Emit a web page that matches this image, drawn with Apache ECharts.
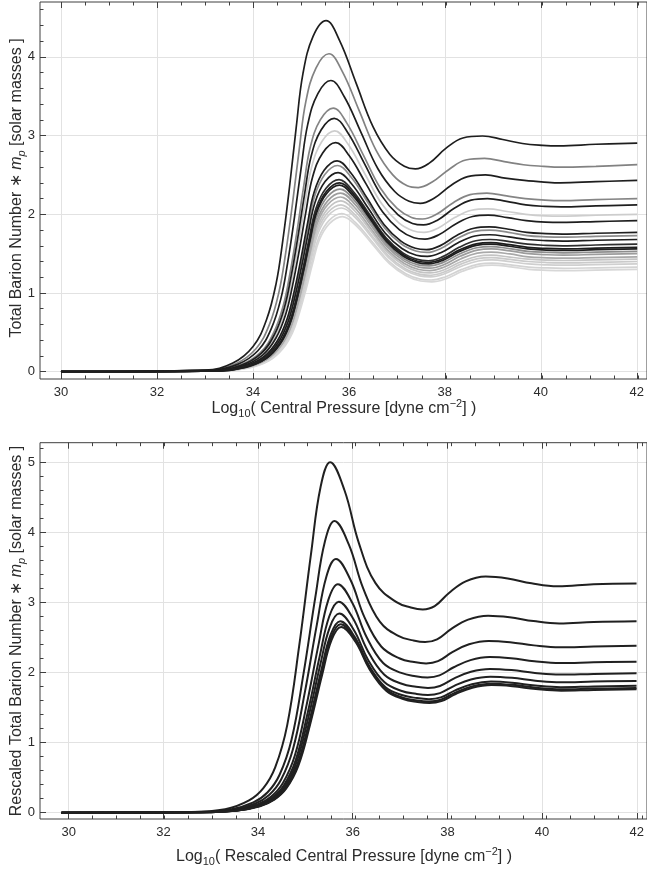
<!DOCTYPE html>
<html>
<head>
<meta charset="utf-8">
<script src="https://cdn.jsdelivr.net/npm/echarts@6/dist/echarts.min.js"></script>
<style>
  html, body { margin: 0; padding: 0; background: #ffffff; }
  #chart { width: 647px; height: 873px; }
</style>
</head>
<body>
<div id="chart"></div>
<script>
// Total baryon number (times proton mass) against log10 of the central pressure,
// one curve per equation of state. Upper panel: raw values; lower panel: rescaled.

// ---- tick values ----
const pressureTicks = [30, 32, 34, 36, 38, 40, 42];
const massTicksTop = [0, 1, 2, 3, 4];
const massTicksBottom = [0, 1, 2, 3, 4, 5];

// ---- upper panel curves: [log10 P_c, N * m_p] ----
const topCurve01 = [[30,0],[33,0.02],[33.58,0.11],[34,0.32],[34.28,0.66],[34.48,1.12],[34.62,1.67],[34.76,2.35],[34.9,3.11],[35.04,3.79],[35.25,4.26],[35.52,4.46],[35.8,4.21],[36.15,3.66],[36.5,3.11],[36.85,2.76],[37.15,2.61],[37.38,2.576],[37.67,2.65],[38.02,2.84],[38.37,2.97],[38.78,2.995],[39.2,2.95],[39.61,2.9],[40.03,2.877],[40.37,2.87],[41.14,2.89],[42,2.905]];
const topCurve02 = [[30,0],[33.06,0.018],[33.64,0.101],[34.06,0.291],[34.34,0.598],[34.54,1.014],[34.68,1.511],[34.82,2.129],[34.96,2.816],[35.1,3.434],[35.31,3.858],[35.58,4.04],[35.86,3.814],[36.21,3.317],[36.56,2.816],[36.91,2.501],[37.21,2.363],[37.44,2.34],[37.73,2.41],[38.08,2.57],[38.43,2.69],[38.82,2.71],[39.23,2.67],[39.63,2.63],[40.05,2.61],[40.39,2.6],[41.14,2.61],[42,2.63]];
const topCurve03 = [[30,0],[33.1,0.017],[33.68,0.093],[34.1,0.266],[34.38,0.548],[34.58,0.929],[34.72,1.384],[34.86,1.95],[35,2.579],[35.14,3.145],[35.35,3.534],[35.62,3.7],[35.9,3.493],[36.25,3.038],[36.6,2.579],[36.95,2.29],[37.25,2.165],[37.48,2.14],[37.77,2.205],[38.12,2.367],[38.47,2.478],[38.84,2.5],[39.25,2.46],[39.65,2.43],[40.06,2.41],[40.4,2.4],[41.14,2.415],[42,2.43]];
const topCurve04 = [[30,0],[33.15,0.015],[33.73,0.084],[34.15,0.241],[34.43,0.496],[34.63,0.841],[34.77,1.253],[34.91,1.765],[35.05,2.335],[35.19,2.848],[35.4,3.199],[35.67,3.35],[35.95,3.162],[36.3,2.75],[36.65,2.335],[37,2.074],[37.3,1.96],[37.53,1.94],[37.82,2],[38.17,2.148],[38.52,2.25],[38.87,2.27],[39.28,2.233],[39.67,2.2],[40.08,2.18],[40.42,2.173],[41.14,2.187],[42,2.2]];
const topCurve05 = [[30,0],[33.17,0.014],[33.75,0.08],[34.17,0.232],[34.45,0.477],[34.65,0.808],[34.79,1.204],[34.93,1.697],[35.07,2.244],[35.21,2.737],[35.42,3.075],[35.69,3.22],[35.97,3.04],[36.32,2.644],[36.67,2.244],[37.02,1.993],[37.32,1.884],[37.55,1.865],[37.84,1.925],[38.19,2.076],[38.54,2.18],[38.88,2.2],[39.28,2.165],[39.68,2.12],[40.08,2.1],[40.42,2.094],[41.14,2.107],[42,2.12]];
const topCurve06 = [[30,0],[33.18,0.014],[33.76,0.077],[34.18,0.22],[34.46,0.453],[34.66,0.768],[34.8,1.144],[34.94,1.613],[35.08,2.133],[35.22,2.601],[35.43,2.922],[35.7,3.06],[35.98,2.889],[36.33,2.512],[36.68,2.133],[37.03,1.894],[37.33,1.79],[37.56,1.77],[37.85,1.824],[38.2,1.959],[38.55,2.052],[38.89,2.07],[39.29,2.036],[39.68,2],[40.09,1.98],[40.43,1.976],[41.14,1.988],[42,2]];
const topCurve07 = [[30,0],[33.2,0.013],[33.78,0.073],[34.2,0.21],[34.48,0.431],[34.68,0.73],[34.82,1.088],[34.96,1.534],[35.1,2.028],[35.24,2.474],[35.45,2.779],[35.72,2.91],[36,2.747],[36.35,2.389],[36.7,2.028],[37.05,1.801],[37.35,1.702],[37.58,1.685],[37.87,1.74],[38.22,1.877],[38.57,1.972],[38.9,1.99],[39.3,1.958],[39.69,1.92],[40.09,1.9],[40.43,1.897],[41.14,1.908],[42,1.92]];
const topCurve08 = [[30,0],[33.23,0.012],[33.81,0.067],[34.23,0.193],[34.51,0.397],[34.71,0.673],[34.85,1.002],[34.99,1.412],[35.13,1.868],[35.27,2.278],[35.48,2.559],[35.75,2.68],[36.03,2.53],[36.38,2.2],[36.73,1.868],[37.08,1.659],[37.38,1.568],[37.61,1.55],[37.9,1.602],[38.25,1.733],[38.6,1.823],[38.92,1.84],[39.32,1.81],[39.7,1.77],[40.1,1.754],[40.44,1.749],[41.14,1.759],[42,1.77]];
const topCurve09 = [[30,0],[33.24,0.012],[33.82,0.066],[34.24,0.189],[34.52,0.388],[34.72,0.658],[34.86,0.98],[35,1.381],[35.14,1.826],[35.28,2.227],[35.49,2.502],[35.76,2.62],[36.04,2.473],[36.39,2.151],[36.74,1.826],[37.09,1.622],[37.39,1.533],[37.62,1.515],[37.91,1.566],[38.26,1.695],[38.61,1.783],[38.93,1.8],[39.32,1.771],[39.71,1.73],[40.1,1.714],[40.44,1.709],[41.14,1.72],[42,1.73]];
const topCurve10 = [[30,0],[33.25,0.011],[33.83,0.063],[34.25,0.182],[34.53,0.374],[34.73,0.635],[34.87,0.946],[35.01,1.333],[35.15,1.763],[35.29,2.151],[35.5,2.416],[35.77,2.53],[36.05,2.388],[36.4,2.077],[36.75,1.763],[37.1,1.566],[37.4,1.48],[37.63,1.465],[37.92,1.515],[38.27,1.638],[38.62,1.724],[38.93,1.74],[39.33,1.712],[39.71,1.68],[40.11,1.665],[40.45,1.66],[41.14,1.67],[42,1.68]];
const topCurve11 = [[30,0],[33.27,0.011],[33.85,0.061],[34.27,0.176],[34.55,0.361],[34.75,0.612],[34.89,0.913],[35.03,1.286],[35.17,1.701],[35.31,2.074],[35.52,2.33],[35.79,2.44],[36.07,2.303],[36.42,2.003],[36.77,1.701],[37.12,1.51],[37.42,1.427],[37.65,1.41],[37.94,1.459],[38.29,1.58],[38.64,1.664],[38.94,1.68],[39.34,1.653],[39.72,1.62],[40.11,1.605],[40.45,1.6],[41.14,1.61],[42,1.62]];
const topCurve12 = [[30,0],[33.28,0.011],[33.86,0.06],[34.28,0.173],[34.56,0.355],[34.76,0.602],[34.9,0.898],[35.04,1.265],[35.18,1.673],[35.32,2.04],[35.53,2.292],[35.8,2.4],[36.08,2.266],[36.43,1.97],[36.78,1.673],[37.13,1.486],[37.43,1.404],[37.66,1.39],[37.95,1.435],[38.3,1.548],[38.65,1.625],[38.95,1.64],[39.34,1.614],[39.72,1.58],[40.11,1.566],[40.45,1.561],[41.14,1.57],[42,1.58]];
const topCurve13 = [[30,0],[33.28,0.011],[33.86,0.059],[34.28,0.171],[34.56,0.351],[34.76,0.595],[34.9,0.886],[35.04,1.249],[35.18,1.652],[35.32,2.015],[35.53,2.263],[35.8,2.37],[36.08,2.237],[36.43,1.946],[36.78,1.652],[37.13,1.467],[37.43,1.386],[37.66,1.37],[37.95,1.415],[38.3,1.528],[38.65,1.605],[38.95,1.62],[39.34,1.594],[39.72,1.56],[40.11,1.546],[40.45,1.541],[41.14,1.55],[42,1.56]];
const topCurve14 = [[30,0],[33.29,0.01],[33.87,0.058],[34.29,0.167],[34.57,0.343],[34.77,0.582],[34.91,0.868],[35.05,1.223],[35.19,1.617],[35.33,1.972],[35.54,2.216],[35.81,2.32],[36.09,2.19],[36.44,1.905],[36.79,1.617],[37.14,1.436],[37.44,1.357],[37.67,1.345],[37.96,1.389],[38.31,1.499],[38.66,1.575],[38.95,1.59],[39.34,1.564],[39.72,1.53],[40.12,1.516],[40.46,1.511],[41.14,1.52],[42,1.53]];
const topCurve15 = [[30,0],[33.3,0.01],[33.88,0.057],[34.3,0.163],[34.58,0.336],[34.78,0.57],[34.92,0.849],[35.06,1.196],[35.2,1.582],[35.34,1.93],[35.55,2.168],[35.82,2.27],[36.1,2.143],[36.45,1.864],[36.8,1.582],[37.15,1.405],[37.45,1.328],[37.68,1.315],[37.97,1.359],[38.32,1.469],[38.67,1.545],[38.96,1.56],[39.35,1.535],[39.73,1.5],[40.12,1.486],[40.46,1.482],[41.14,1.49],[42,1.5]];
const topCurve16 = [[30,0],[33.3,0.01],[33.88,0.056],[34.3,0.16],[34.58,0.329],[34.78,0.557],[34.92,0.83],[35.06,1.17],[35.2,1.547],[35.34,1.887],[35.55,2.12],[35.82,2.22],[36.1,2.096],[36.45,1.823],[36.8,1.547],[37.15,1.374],[37.45,1.299],[37.68,1.285],[37.97,1.327],[38.32,1.433],[38.67,1.506],[38.96,1.52],[39.35,1.496],[39.73,1.46],[40.12,1.447],[40.46,1.442],[41.14,1.45],[42,1.46]];
const topCurve17 = [[30,0],[33.31,0.01],[33.89,0.054],[34.31,0.156],[34.59,0.321],[34.79,0.545],[34.93,0.812],[35.07,1.144],[35.21,1.512],[35.35,1.845],[35.56,2.072],[35.83,2.17],[36.11,2.048],[36.46,1.782],[36.81,1.512],[37.16,1.343],[37.46,1.269],[37.69,1.255],[37.98,1.296],[38.33,1.397],[38.68,1.467],[38.96,1.48],[39.35,1.456],[39.73,1.43],[40.12,1.417],[40.46,1.413],[41.14,1.42],[42,1.43]];
const topCurve18 = [[30,0],[33.31,0.01],[33.89,0.053],[34.31,0.153],[34.59,0.314],[34.79,0.532],[34.93,0.793],[35.07,1.117],[35.21,1.478],[35.35,1.802],[35.56,2.025],[35.83,2.12],[36.11,2.001],[36.46,1.741],[36.81,1.478],[37.16,1.312],[37.46,1.24],[37.69,1.225],[37.98,1.266],[38.33,1.367],[38.68,1.437],[38.96,1.45],[39.35,1.427],[39.73,1.4],[40.12,1.387],[40.46,1.383],[41.14,1.39],[42,1.4]];
const topCurve19 = [[30,0],[33.32,0.009],[33.9,0.052],[34.32,0.15],[34.6,0.308],[34.8,0.522],[34.94,0.778],[35.08,1.096],[35.22,1.45],[35.36,1.768],[35.57,1.986],[35.84,2.08],[36.12,1.964],[36.47,1.708],[36.82,1.45],[37.17,1.288],[37.47,1.217],[37.7,1.205],[37.99,1.244],[38.34,1.34],[38.69,1.407],[38.97,1.42],[39.36,1.397],[39.73,1.37],[40.12,1.357],[40.46,1.353],[41.14,1.36],[42,1.37]];
const topCurve20 = [[30,0],[33.33,0.009],[33.91,0.05],[34.33,0.145],[34.61,0.297],[34.81,0.505],[34.95,0.752],[35.09,1.059],[35.23,1.401],[35.37,1.709],[35.58,1.92],[35.85,2.01],[36.13,1.897],[36.48,1.65],[36.83,1.401],[37.18,1.244],[37.48,1.176],[37.71,1.165],[38,1.204],[38.35,1.3],[38.7,1.367],[38.98,1.38],[39.36,1.358],[39.74,1.33],[40.13,1.318],[40.47,1.314],[41.14,1.32],[42,1.33]];
const topCurve21 = [[30,0],[33.34,0.009],[33.92,0.049],[34.34,0.142],[34.62,0.292],[34.82,0.494],[34.96,0.737],[35.1,1.038],[35.24,1.373],[35.38,1.675],[35.59,1.881],[35.86,1.97],[36.14,1.86],[36.49,1.617],[36.84,1.373],[37.19,1.219],[37.49,1.152],[37.72,1.142],[38.01,1.18],[38.36,1.276],[38.71,1.342],[38.98,1.355],[39.37,1.333],[39.74,1.3],[40.13,1.288],[40.47,1.284],[41.14,1.29],[42,1.3]];

// ---- lower panel curves (rescaled) ----
const rescaledCurve1 = [[29.85,0],[32.48,0.01],[33.28,0.05],[33.78,0.175],[34.08,0.35],[34.33,0.65],[34.58,1.25],[34.83,2.375],[35.08,3.7],[35.28,4.65],[35.48,5],[35.78,4.6],[36.08,3.85],[36.43,3.275],[36.87,3.003],[37.17,2.928],[37.42,2.9],[37.67,2.947],[37.97,3.135],[38.32,3.3],[38.74,3.37],[39.2,3.342],[39.7,3.272],[40.25,3.23],[41,3.26],[41.9,3.27]];
const rescaledCurve2 = [[29.85,0],[32.57,0.008],[33.37,0.042],[33.87,0.146],[34.17,0.291],[34.42,0.541],[34.67,1.04],[34.92,1.976],[35.17,3.078],[35.37,3.869],[35.57,4.16],[35.87,3.827],[36.17,3.203],[36.52,2.725],[36.92,2.518],[37.22,2.458],[37.47,2.435],[37.72,2.473],[38.02,2.623],[38.37,2.754],[38.79,2.81],[39.24,2.788],[39.74,2.733],[40.28,2.7],[41,2.72],[41.9,2.73]];
const rescaledCurve3 = [[29.85,0],[32.6,0.007],[33.4,0.036],[33.9,0.127],[34.2,0.253],[34.45,0.471],[34.7,0.905],[34.95,1.72],[35.2,2.679],[35.4,3.367],[35.6,3.62],[35.9,3.33],[36.2,2.787],[36.55,2.371],[36.94,2.2],[37.24,2.149],[37.49,2.13],[37.74,2.162],[38.04,2.29],[38.39,2.402],[38.8,2.45],[39.25,2.432],[39.75,2.387],[40.29,2.36],[41,2.37],[41.9,2.38]];
const rescaledCurve4 = [[29.85,0],[32.64,0.007],[33.44,0.033],[33.94,0.114],[34.24,0.228],[34.49,0.424],[34.74,0.815],[34.99,1.549],[35.24,2.412],[35.44,3.032],[35.64,3.26],[35.94,2.999],[36.24,2.51],[36.59,2.135],[36.97,1.994],[37.27,1.947],[37.52,1.93],[37.77,1.959],[38.07,2.075],[38.42,2.177],[38.82,2.22],[39.27,2.203],[39.76,2.16],[40.3,2.135],[41,2.145],[41.9,2.155]];
const rescaledCurve5 = [[29.85,0],[32.66,0.006],[33.46,0.03],[33.96,0.105],[34.26,0.211],[34.51,0.391],[34.76,0.753],[35.01,1.43],[35.26,2.227],[35.46,2.799],[35.66,3.01],[35.96,2.769],[36.26,2.318],[36.61,1.972],[36.98,1.839],[37.28,1.796],[37.53,1.78],[37.78,1.807],[38.08,1.915],[38.43,2.01],[38.83,2.05],[39.28,2.034],[39.77,1.994],[40.3,1.97],[41,1.98],[41.9,1.99]];
const rescaledCurve6 = [[29.85,0],[32.67,0.006],[33.47,0.028],[33.97,0.099],[34.27,0.199],[34.52,0.369],[34.77,0.71],[35.02,1.349],[35.27,2.102],[35.47,2.641],[35.67,2.84],[35.97,2.613],[36.27,2.187],[36.62,1.86],[36.98,1.737],[37.28,1.696],[37.53,1.68],[37.78,1.706],[38.08,1.81],[38.43,1.901],[38.84,1.94],[39.29,1.924],[39.78,1.884],[40.31,1.86],[41,1.87],[41.9,1.88]];
const rescaledCurve7 = [[29.85,0],[32.69,0.005],[33.49,0.027],[33.99,0.096],[34.29,0.191],[34.54,0.355],[34.79,0.683],[35.04,1.297],[35.29,2.02],[35.49,2.539],[35.69,2.73],[35.99,2.512],[36.29,2.102],[36.64,1.788],[37,1.675],[37.3,1.635],[37.55,1.62],[37.8,1.645],[38.1,1.745],[38.45,1.833],[38.85,1.87],[39.29,1.854],[39.78,1.814],[40.31,1.79],[41,1.8],[41.9,1.81]];
const rescaledCurve8 = [[29.85,0],[32.7,0.005],[33.5,0.027],[34,0.094],[34.3,0.188],[34.55,0.35],[34.8,0.673],[35.05,1.278],[35.3,1.991],[35.5,2.502],[35.7,2.69],[36,2.475],[36.3,2.071],[36.65,1.762],[37,1.641],[37.3,1.6],[37.55,1.585],[37.8,1.611],[38.1,1.713],[38.45,1.802],[38.85,1.84],[39.3,1.824],[39.79,1.784],[40.32,1.76],[41,1.77],[41.9,1.78]];
const rescaledCurve9 = [[29.85,0],[32.71,0.005],[33.51,0.027],[34.01,0.093],[34.31,0.186],[34.56,0.345],[34.81,0.663],[35.06,1.259],[35.31,1.961],[35.51,2.465],[35.71,2.65],[36.01,2.438],[36.31,2.041],[36.66,1.736],[37.01,1.621],[37.31,1.58],[37.56,1.565],[37.81,1.591],[38.11,1.693],[38.46,1.782],[38.86,1.82],[39.3,1.804],[39.79,1.764],[40.32,1.74],[41,1.75],[41.9,1.76]];

const topCurves = [topCurve01, topCurve02, topCurve03, topCurve04, topCurve05, topCurve06, topCurve07,
  topCurve08, topCurve09, topCurve10, topCurve11, topCurve12, topCurve13, topCurve14, topCurve15,
  topCurve16, topCurve17, topCurve18, topCurve19, topCurve20, topCurve21];
const rescaledCurves = [rescaledCurve1, rescaledCurve2, rescaledCurve3, rescaledCurve4, rescaledCurve5,
  rescaledCurve6, rescaledCurve7, rescaledCurve8, rescaledCurve9];

// stroke shades of the upper-panel curves (same order as topCurves) and their drawing layer
const BLACK = '#1e1e1e';
const topCurveShades = [BLACK, '#828282', BLACK, '#858585', BLACK, '#cdcdcd', BLACK, BLACK, '#8c8c8c', BLACK,
  '#2e2e2e', BLACK, BLACK, '#8e8e8e', '#9c9c9c', '#a9a9a9', '#c4c4c4', '#cacaca', '#cfcfcf', '#d3d3d3', '#d7d7d7'];
const topCurveLayers = [5, 4, 5, 4, 5, 3, 5, 5, 4, 5, 5, 5, 5, 4, 4, 4, 3, 3, 3, 3, 3];

// ---- layout & styling ----
const FONT = '"Liberation Sans", Arial, Helvetica, sans-serif';
const FRAME_COLOR = '#3f3f3f';
const LABEL_COLOR = '#2b2b2b';
const GRIDLINE_COLOR = '#e2e2e2';

const panelLayout = [
  { frame: { left: 40, top: 2, width: 608, height: 377 }, x0: 61, xUnit: 48.1, y0: 371.7, yUnit: 78.7,
    yTicks: massTicksTop, yMinorMax: 4.6 },
  { frame: { left: 40, top: 442.7, width: 608, height: 376.3 }, x0: 68.7, xUnit: 47.8, y0: 812.7, yUnit: 70.1,
    yTicks: massTicksBottom, yMinorMax: 5.2 }
];

const grids = [], xAxes = [], yAxes = [], series = [];

function addGrid(rect, extra) {
  grids.push(Object.assign({ left: rect.left, top: rect.top, width: rect.width, height: rect.height,
    containLabel: false, show: false }, extra || {}));
  return grids.length - 1;
}
function hiddenAxis(gridIndex, min, max) {
  return { type: 'value', gridIndex, min, max, show: false };
}
function tickAxis(gridIndex, position, min, max, interval, tickLen, withLabels, withGrid) {
  return {
    type: 'value', gridIndex, position, min, max, interval,
    axisLine: { show: false, onZero: false },
    axisTick: { show: true, inside: true, length: tickLen, lineStyle: { color: FRAME_COLOR, width: 1 } },
    axisLabel: withLabels ? { show: true, margin: position === 'bottom' ? 7 : 5, color: LABEL_COLOR,
      fontSize: 13, fontFamily: FONT, showMinLabel: true, showMaxLabel: true } : { show: false },
    splitLine: withGrid ? { show: true, lineStyle: { color: GRIDLINE_COLOR, width: 1 } } : { show: false }
  };
}

panelLayout.forEach((p, panelIndex) => {
  const f = p.frame;
  const xFirst = pressureTicks[0], xLast = pressureTicks[pressureTicks.length - 1];
  const xStep = pressureTicks[1] - pressureTicks[0];
  const yMajorMax = p.yTicks[p.yTicks.length - 1];
  const xRect = { left: p.x0, top: f.top, width: (xLast - xFirst) * p.xUnit, height: f.height };

  // major and minor ticks along the pressure axis (bottom, mirrored on top)
  let g = addGrid(xRect);
  xAxes.push(tickAxis(g, 'bottom', xFirst, xLast, xStep, 6, true, true));
  xAxes.push(tickAxis(g, 'top', xFirst, xLast, xStep, 6, false, false));
  yAxes.push(hiddenAxis(g, 0, 1));
  g = addGrid(xRect);
  xAxes.push(tickAxis(g, 'bottom', xFirst, xLast, 0.5, 3.5, false, false));
  xAxes.push(tickAxis(g, 'top', xFirst, xLast, 0.5, 3.5, false, false));
  yAxes.push(hiddenAxis(g, 0, 1));

  // major and minor ticks along the mass axis
  g = addGrid({ left: f.left, top: p.y0 - yMajorMax * p.yUnit, width: f.width, height: yMajorMax * p.yUnit });
  yAxes.push(tickAxis(g, 'left', 0, yMajorMax, 1, 6, true, true));
  xAxes.push(hiddenAxis(g, 0, 1));
  g = addGrid({ left: f.left, top: p.y0 - p.yMinorMax * p.yUnit, width: f.width, height: p.yMinorMax * p.yUnit });
  yAxes.push(tickAxis(g, 'left', 0, p.yMinorMax, 0.2, 3.5, false, false));
  xAxes.push(hiddenAxis(g, 0, 1));

  // data grid: the framed plot box
  const xMin = xFirst - (p.x0 - f.left) / p.xUnit;
  const yMin = -(f.top + f.height - p.y0) / p.yUnit;
  g = addGrid(f, { show: true, borderColor: FRAME_COLOR, borderWidth: 1, backgroundColor: 'transparent', z: 1 });
  const xi = xAxes.length, yi = yAxes.length;
  xAxes.push(hiddenAxis(g, xMin, xMin + f.width / p.xUnit));
  yAxes.push(hiddenAxis(g, yMin, yMin + f.height / p.yUnit));

  const curves = panelIndex === 0 ? topCurves : rescaledCurves;
  curves.forEach((data, i) => {
    series.push({
      type: 'line', xAxisIndex: xi, yAxisIndex: yi, data,
      showSymbol: false, smooth: 0.4,
      z: panelIndex === 0 ? topCurveLayers[i] : 5,
      lineStyle: { color: panelIndex === 0 ? topCurveShades[i] : '#202020', width: panelIndex === 0 ? 1.7 : 2 },
      emphasis: { disabled: true }, silent: true
    });
  });
});

// ---- axis titles ----
const titleRich = {
  a: { fontSize: 16, fontFamily: FONT, fill: LABEL_COLOR, lineHeight: 21 },
  i: { fontSize: 16, fontFamily: FONT, fill: LABEL_COLOR, lineHeight: 21, fontStyle: 'italic' },
  s: { fontSize: 11, fontFamily: FONT, fill: LABEL_COLOR, lineHeight: 11, verticalAlign: 'bottom' },
  is: { fontSize: 11, fontFamily: FONT, fill: LABEL_COLOR, lineHeight: 11, verticalAlign: 'bottom', fontStyle: 'italic' },
  p: { fontSize: 11, fontFamily: FONT, fill: LABEL_COLOR, lineHeight: 11, verticalAlign: 'top' }
};
function title(text, x, y, rotation) {
  return {
    type: 'text', x, y, rotation: rotation || 0, silent: true, z: 10,
    style: { text, rich: titleRich, align: 'center', verticalAlign: 'middle',
      textAlign: 'center', textVerticalAlign: 'middle', fill: LABEL_COLOR, font: '16px ' + FONT }
  };
}
const graphics = [
  title('{a|Log}{s|10}{a|( Central Pressure [dyne cm}{p|−2}{a|] )}', 344, 409),
  title('{a|Total Barion Number ∗ }{i|m}{is|p}{a| [solar masses ]}', 17, 188, Math.PI / 2),
  title('{a|Log}{s|10}{a|( Rescaled Central Pressure [dyne cm}{p|−2}{a|] )}', 344, 857),
  title('{a|Rescaled Total Barion Number ∗ }{i|m}{is|p}{a| [solar masses ]}', 17, 631, Math.PI / 2)
];

const chart = echarts.init(document.getElementById('chart'), null, { renderer: 'canvas', width: 647, height: 873 });
chart.setOption({
  animation: false,
  backgroundColor: '#ffffff',
  grid: grids,
  xAxis: xAxes,
  yAxis: yAxes,
  series,
  graphic: graphics
});
</script>
</body>
</html>
